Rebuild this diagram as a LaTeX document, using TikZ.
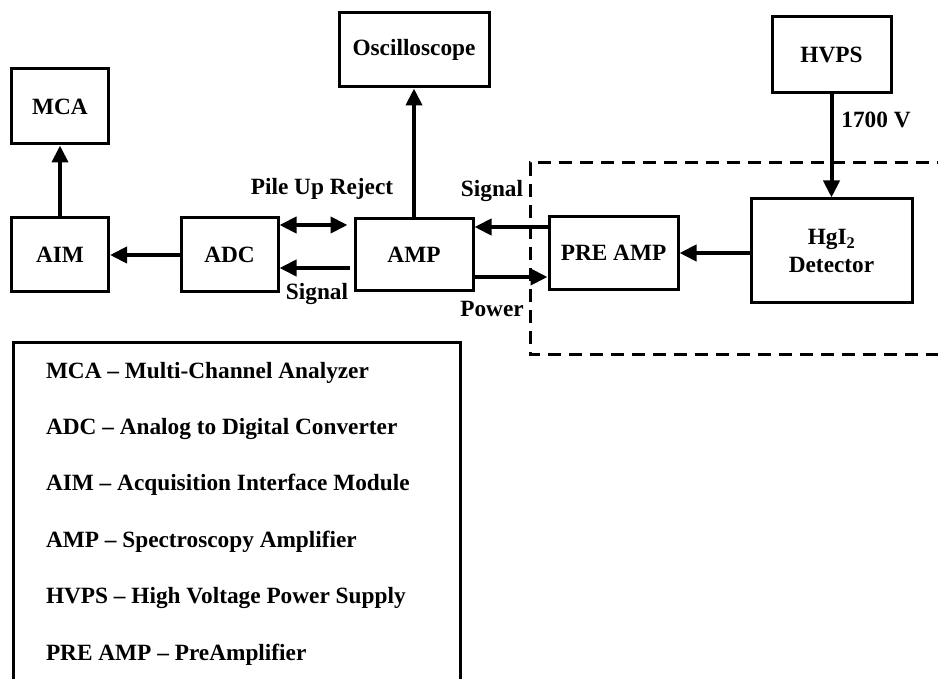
\documentclass[tikz,border=0pt]{standalone}
\usepackage{fontspec}
\setmainfont{Liberation Serif}
\usetikzlibrary{arrows.meta, positioning}

\begin{document}
\begin{tikzpicture}[x=1pt, y=1pt, >={Triangle[length=17pt, width=16pt]}, line width=4pt,
	every node/.style={font=\fontsize{23.3}{28}\selectfont\bfseries, inner sep=0pt},
	blk/.style={draw, line width=3pt, align=center}]

	\useasboundingbox (0,0) rectangle (938,-679);

	% blocks
	\node [blk, minimum width=97pt, minimum height=75pt] (MCA) at (60,-106.5) {MCA};
	\node [blk, minimum width=97pt, minimum height=74pt] (AIM) at (60,-255) {AIM};
	\node [blk, minimum width=97pt, minimum height=74pt] (ADC) at (229.5,-255) {ADC};
	\node [blk, minimum width=118pt, minimum height=72pt] (AMP) at (414,-255) {AMP};
	\node [blk, minimum width=150pt, minimum height=74pt] (Osc) at (414,-50) {Oscilloscope};
	\node [blk, minimum width=129pt, minimum height=73pt] (PRE) at (613.5,-253) {PRE AMP};
	\node [blk, minimum width=161pt, minimum height=104pt] (Det) at (831.5,-251) {HgI\textsubscript{2}\\Detector};
	\node [blk, minimum width=119pt, minimum height=76pt] (HVPS) at (831.5,-55) {HVPS};

	% connections
	\draw [->] (AIM) -- (MCA);
	\draw [->] (ADC) -- (AIM);

	\coordinate (pu) at ([yshift=30pt]ADC.east);
	\draw [<->, shorten >=6pt] (pu) -- (pu -| AMP.west);
	\coordinate (sg) at ([yshift=-13pt]ADC.east);
	\draw [->, shorten <=4pt] (sg -| AMP.west) -- (sg);

	\draw [->] (AMP) -- (Osc);

	\coordinate (ps) at ([yshift=26pt]PRE.west);
	\draw [->] (ps) -- (ps -| AMP.east);
	\coordinate (pw) at ([yshift=-24pt]PRE.west);
	\draw [->] (pw -| AMP.east) -- (pw);

	\draw [->] (Det.west |- PRE.east) -- (PRE.east);
	\draw [->] (HVPS) -- (Det);

	% labels
	\node [anchor=base] (lpu) at (322,-195) {Pile Up Reject};
	\node [anchor=base] (lsg) at (317,-300) {Signal};
	\node [anchor=base] (lsu) at (492,-197) {Signal};
	\node [anchor=base] (lpw) at (492,-317) {Power};
	\node [anchor=base] (lhv) at (876,-128) {1700 V};

	% detector frame
	\draw [line width=3pt, dash pattern=on 13pt off 8pt] (950,-163) -- (530,-163) -- (530,-355) -- (950,-355);

	% legend
	\draw [line width=3pt] (13,-690) -- (13,-343) -- (460,-343) -- (460,-690);
	\foreach \txt [count=\i] in {MCA – Multi-Channel Analyzer, ADC – Analog to Digital Converter,
		AIM – Acquisition Interface Module, AMP – Spectroscopy Amplifier,
		HVPS – High Voltage Power Supply, PRE AMP – PreAmplifier}
		\node [anchor=base west] (L\i) at (44,{-378-56.4*(\i-1)}) {\txt};

\end{tikzpicture}
\end{document}
